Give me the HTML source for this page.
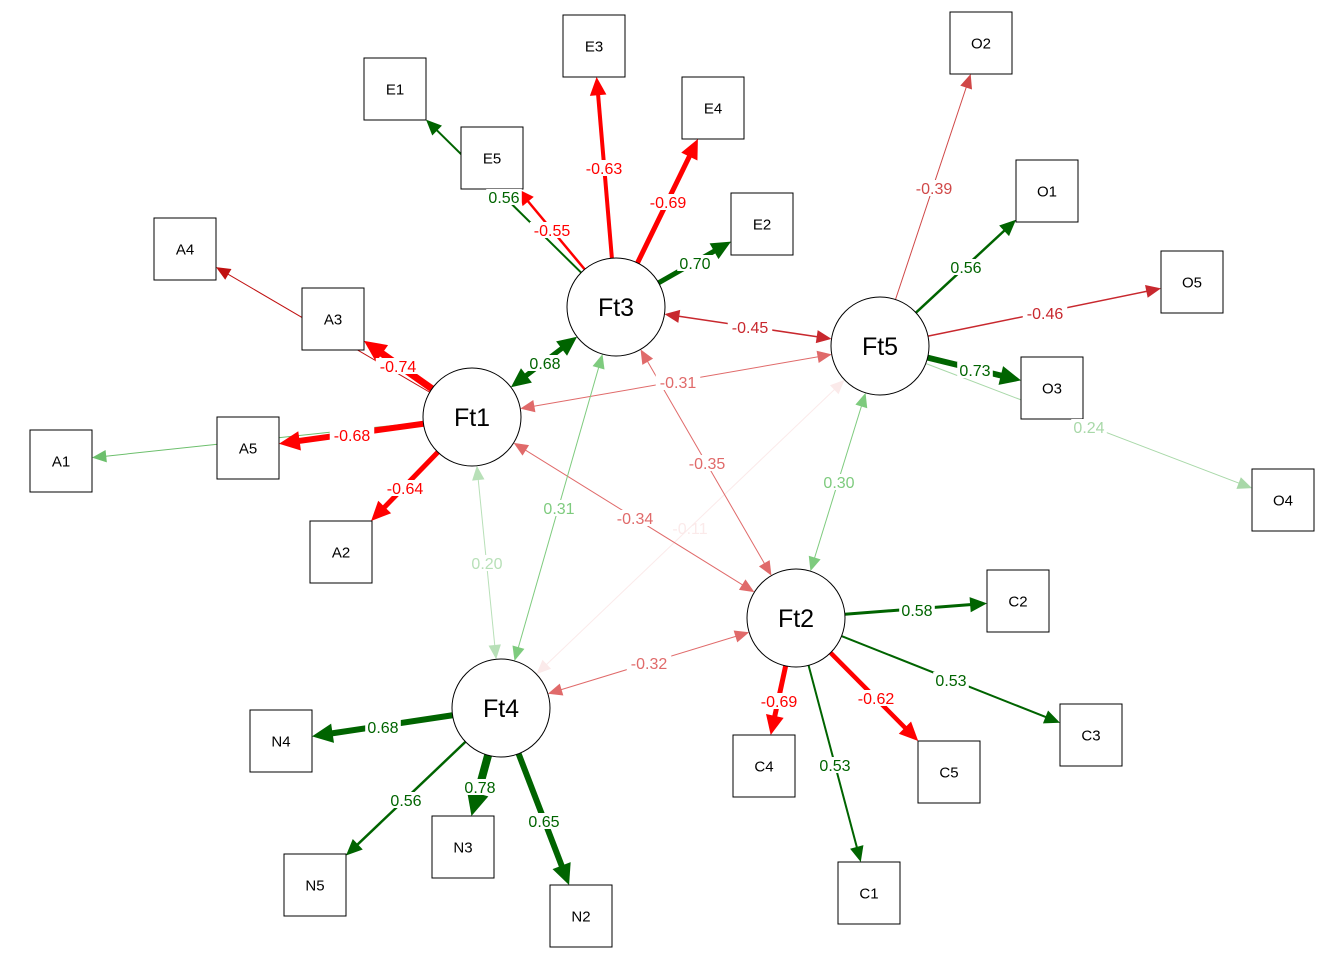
<!DOCTYPE html>
<html><head><meta charset="utf-8"><style>html,body{margin:0;padding:0;background:#fff}svg{display:block}</style></head>
<body>
<svg id="s" width="1344" height="960" xmlns="http://www.w3.org/2000/svg" font-family="Liberation Sans, Arial, sans-serif"></svg>
<script>
const N={
Ft1:[472,417,'c'],Ft3:[616,307,'c'],Ft5:[880,346,'c'],Ft2:[796,618,'c'],Ft4:[501,708,'c'],
E3:[594,46],E1:[395,89],E5:[492,158],E4:[713,108],E2:[762,224],A4:[185,249],A3:[333,319],A5:[248,448],A1:[61,461],A2:[341,552],
O2:[981,43],O1:[1047,191],O5:[1192,282],O3:[1052,388],O4:[1283,500],C2:[1018,601],C3:[1091,735],C5:[949,772],C4:[764,766],C1:[869,893],
N4:[281,741],N3:[463,847],N5:[315,885],N2:[581,916]};
const G='#006400',R='#ff0000';
const E=[
['Ft1','A1',1,'#6cbf6c','',0,0],
['Ft1','A4',1,'#c01010','',0,0],
['Ft3','E1',2,G,'0.56',504,197],
['Ft5','O4',1,'#a8d8a8','0.24',1089,427],
['Ft4','Ft5',1,'#fbeaea','-0.11',690,528,'#fbeaea',1],
['Ft3','E3',4,R,'-0.63',604,168],
['Ft3','E4',5,R,'-0.69',668,202],
['Ft3','E2',5,G,'0.70',695,263],
['Ft3','E5',2.5,R,'-0.55',552,230],
['Ft1','A3',7,R,'-0.74',398,366],
['Ft1','A5',6,R,'-0.68',352,435],
['Ft1','A2',5,R,'-0.64',405,488],
['Ft1','Ft3',5,G,'0.68',545,363,G,1],
['Ft3','Ft5',1.5,'#c8282e','-0.45',750,327,'#c8282e',1],
['Ft1','Ft5',1,'#e06a6a','-0.31',678,382,'#e06a6a',1],
['Ft3','Ft2',1,'#e06a6a','-0.35',707,463,'#e06a6a',1],
['Ft1','Ft2',1,'#e06a6a','-0.34',635,518,'#e06a6a',1],
['Ft5','Ft2',1,'#7ecb7e','0.30',839,482,'#7ecb7e',1],
['Ft3','Ft4',1,'#7ecb7e','0.31',559,508,'#7ecb7e',1],
['Ft1','Ft4',1,'#b8e0b8','0.20',487,563,'#b8e0b8',1],
['Ft2','Ft4',1,'#e06a6a','-0.32',649,663,'#e06a6a',1],
['Ft5','O2',1,'#d04848','-0.39',934,188],
['Ft5','O1',2.5,G,'0.56',966,267],
['Ft5','O5',1.5,'#c8282e','-0.46',1045,313],
['Ft5','O3',6,G,'0.73',975,370],
['Ft2','C2',3,G,'0.58',917,610],
['Ft2','C3',2,G,'0.53',951,680],
['Ft2','C5',4.5,R,'-0.62',876,698],
['Ft2','C4',5,R,'-0.69',779,701],
['Ft2','C1',2,G,'0.53',835,765],
['Ft4','N4',6,G,'0.68',383,727],
['Ft4','N3',8,G,'0.78',480,787],
['Ft4','N5',2.5,G,'0.56',406,800],
['Ft4','N2',6,G,'0.65',544,821]];
function bd(n,dx,dy){const v=N[n];const l=Math.hypot(dx,dy);if(v[2])return [v[0]+dx/l*49,v[1]+dy/l*49];const t=31/Math.max(Math.abs(dx),Math.abs(dy));return [v[0]+dx*t,v[1]+dy*t];}
let out='';
function head(p,ux,uy,w,c){const L=13+w*1.3,H=5.5+w*0.7;const bx=p[0]-ux*L,by=p[1]-uy*L;
out+=`<polygon points="${p[0]},${p[1]} ${bx-uy*H},${by+ux*H} ${bx+uy*H},${by-ux*H}" fill="${c}"/>`;return [p[0]-ux*L*0.8,p[1]-uy*L*0.8];}
const labels=[];
for(const e of E){const a=N[e[0]],b=N[e[1]];const dx=b[0]-a[0],dy=b[1]-a[1];const l=Math.hypot(dx,dy),ux=dx/l,uy=dy/l;
let p1=bd(e[0],dx,dy),p2=bd(e[1],-dx,-dy);
let q2=head(p2,ux,uy,e[2],e[3]);let q1=p1;if(e[8])q1=head(p1,-ux,-uy,e[2],e[3]);
out+=`<line x1="${q1[0]}" y1="${q1[1]}" x2="${q2[0]}" y2="${q2[1]}" stroke="${e[3]}" stroke-width="${e[2]}"/>`;
if(e[4])labels.push(e);}
for(const k in N){const v=N[k];if(v[2])out+=`<circle cx="${v[0]}" cy="${v[1]}" r="49" fill="#fff" stroke="#000" stroke-width="1"/><text x="${v[0]}" y="${v[1]+9}" font-size="25" text-anchor="middle">${k}</text>`;
else out+=`<rect x="${v[0]-31}" y="${v[1]-31}" width="62" height="62" fill="#fff" stroke="#000" stroke-width="1"/><text x="${v[0]}" y="${v[1]+5.5}" font-size="15" text-anchor="middle">${k}</text>`;}
for(const e of labels){const c=e[7]||e[3];const w=e[4].length*8.9;
if(c!='#fbeaea')out+=`<rect x="${e[5]-w/2}" y="${e[6]-8}" width="${w}" height="16" fill="#fff"/>`;
out+=`<text x="${e[5]}" y="${e[6]+6}" font-size="16" text-anchor="middle" fill="${c}">${e[4]}</text>`;}
document.getElementById('s').innerHTML=out;
</script>
</body></html>
